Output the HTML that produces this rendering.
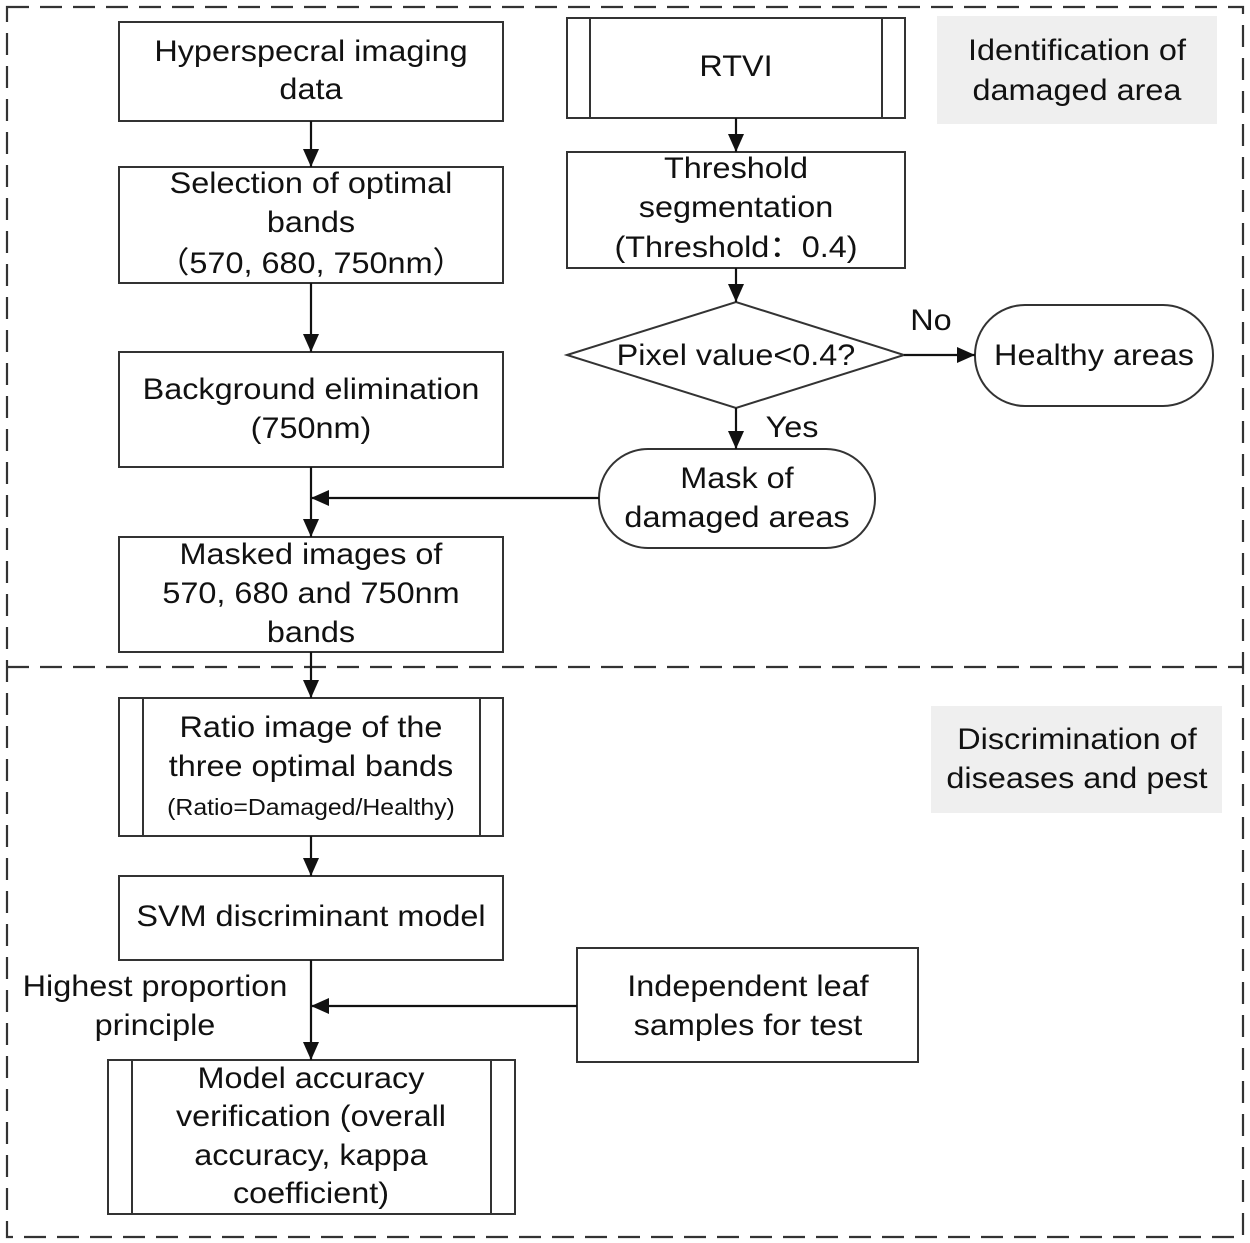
<!DOCTYPE html>
<html><head><meta charset="utf-8"><style>html,body{margin:0;padding:0;background:#fff}svg{display:block}text{font-family:"Liberation Sans","Noto Sans CJK SC",sans-serif;font-size:30px;fill:#111;text-anchor:middle;dominant-baseline:central;transform-box:fill-box;transform-origin:center;transform:scaleX(1.08)}</style></head><body>
<svg width="1250" height="1243" viewBox="0 0 1250 1243" xmlns="http://www.w3.org/2000/svg">
<defs><marker id="b" markerWidth="18" markerHeight="16" refX="18" refY="8" orient="auto" markerUnits="userSpaceOnUse"><path d="M0,0 L18,8 L0,16 z" fill="#111"/></marker></defs>
<g fill="none" stroke="#333" stroke-width="2.2" stroke-dasharray="22,11">
<rect x="7" y="7" width="1236" height="1230"/>
<line x1="7" y1="667" x2="1243" y2="667"/>
</g>
<rect x="937" y="16" width="280" height="108" fill="#efefef"/>
<rect x="931" y="706" width="291" height="107" fill="#efefef"/>
<g fill="#fff" stroke="#333" stroke-width="2">
<rect x="119" y="22" width="384" height="99"/>
<rect x="119" y="167" width="384" height="116"/>
<rect x="119" y="352" width="384" height="115"/>
<rect x="119" y="537" width="384" height="115"/>
<rect x="119" y="698" width="384" height="138"/>
<rect x="119" y="876" width="384" height="84"/>
<rect x="108" y="1060" width="407" height="154"/>
<rect x="567" y="18" width="338" height="100"/>
<rect x="567" y="152" width="338" height="116"/>
<polygon points="567,355 736,302 904,355 736,408"/>
<rect x="975" y="305" width="238" height="101" rx="50"/>
<rect x="599" y="449" width="276" height="99" rx="49"/>
<rect x="577" y="948" width="341" height="114"/>
</g>
<g stroke="#333" stroke-width="2" fill="none">
<line x1="143" y1="698" x2="143" y2="836"/><line x1="480" y1="698" x2="480" y2="836"/>
<line x1="132" y1="1060" x2="132" y2="1214"/><line x1="491" y1="1060" x2="491" y2="1214"/>
<line x1="590" y1="18" x2="590" y2="118"/><line x1="882" y1="18" x2="882" y2="118"/>
</g>
<g stroke="#111" stroke-width="2.2" fill="none" marker-end="url(#b)">
<line x1="311" y1="121" x2="311" y2="167"/>
<line x1="311" y1="283" x2="311" y2="352"/>
<line x1="311" y1="467" x2="311" y2="537"/>
<line x1="311" y1="652" x2="311" y2="698"/>
<line x1="311" y1="836" x2="311" y2="876"/>
<line x1="311" y1="960" x2="311" y2="1060"/>
<line x1="736" y1="118" x2="736" y2="152"/>
<line x1="736" y1="268" x2="736" y2="302"/>
<line x1="736" y1="408" x2="736" y2="449"/>
<line x1="904" y1="355" x2="975" y2="355"/>
<line x1="599" y1="498" x2="311" y2="498"/>
<line x1="577" y1="1006" x2="311" y2="1006"/>
</g>
<text x="311" y="51">Hyperspecral imaging</text><text x="311" y="89">data</text>
<text x="311" y="183">Selection of optimal</text><text x="311" y="222">bands</text><text x="311" y="263">（570, 680, 750nm）</text>
<text x="311" y="389">Background elimination</text><text x="311" y="428">(750nm)</text>
<text x="311" y="554">Masked images of</text><text x="311" y="593">570, 680 and 750nm</text><text x="311" y="632">bands</text>
<text x="311" y="727">Ratio image of the</text><text x="311" y="766">three optimal bands</text><text x="311" y="808" style="font-size:23px">(Ratio=Damaged/Healthy)</text>
<text x="311" y="916">SVM discriminant model</text>
<text x="311" y="1078">Model accuracy</text><text x="311" y="1116">verification (overall</text><text x="311" y="1155">accuracy, kappa</text><text x="311" y="1193">coefficient)</text>
<text x="736" y="66">RTVI</text>
<text x="736" y="168">Threshold</text><text x="736" y="207">segmentation</text><text x="736" y="247">(Threshold：0.4)</text>
<text x="736" y="355">Pixel value&lt;0.4?</text>
<text x="1094" y="355">Healthy areas</text>
<text x="737" y="478">Mask of</text><text x="737" y="517">damaged areas</text>
<text x="748" y="986">Independent leaf</text><text x="748" y="1025">samples for test</text>
<text x="1077" y="50">Identification of</text><text x="1077" y="90">damaged area</text>
<text x="1077" y="739">Discrimination of</text><text x="1077" y="778">diseases and pest</text>
<text x="931" y="320">No</text><text x="792" y="427">Yes</text>
<text x="155" y="986">Highest proportion</text><text x="155" y="1025">principle</text>
</svg>
</body></html>
